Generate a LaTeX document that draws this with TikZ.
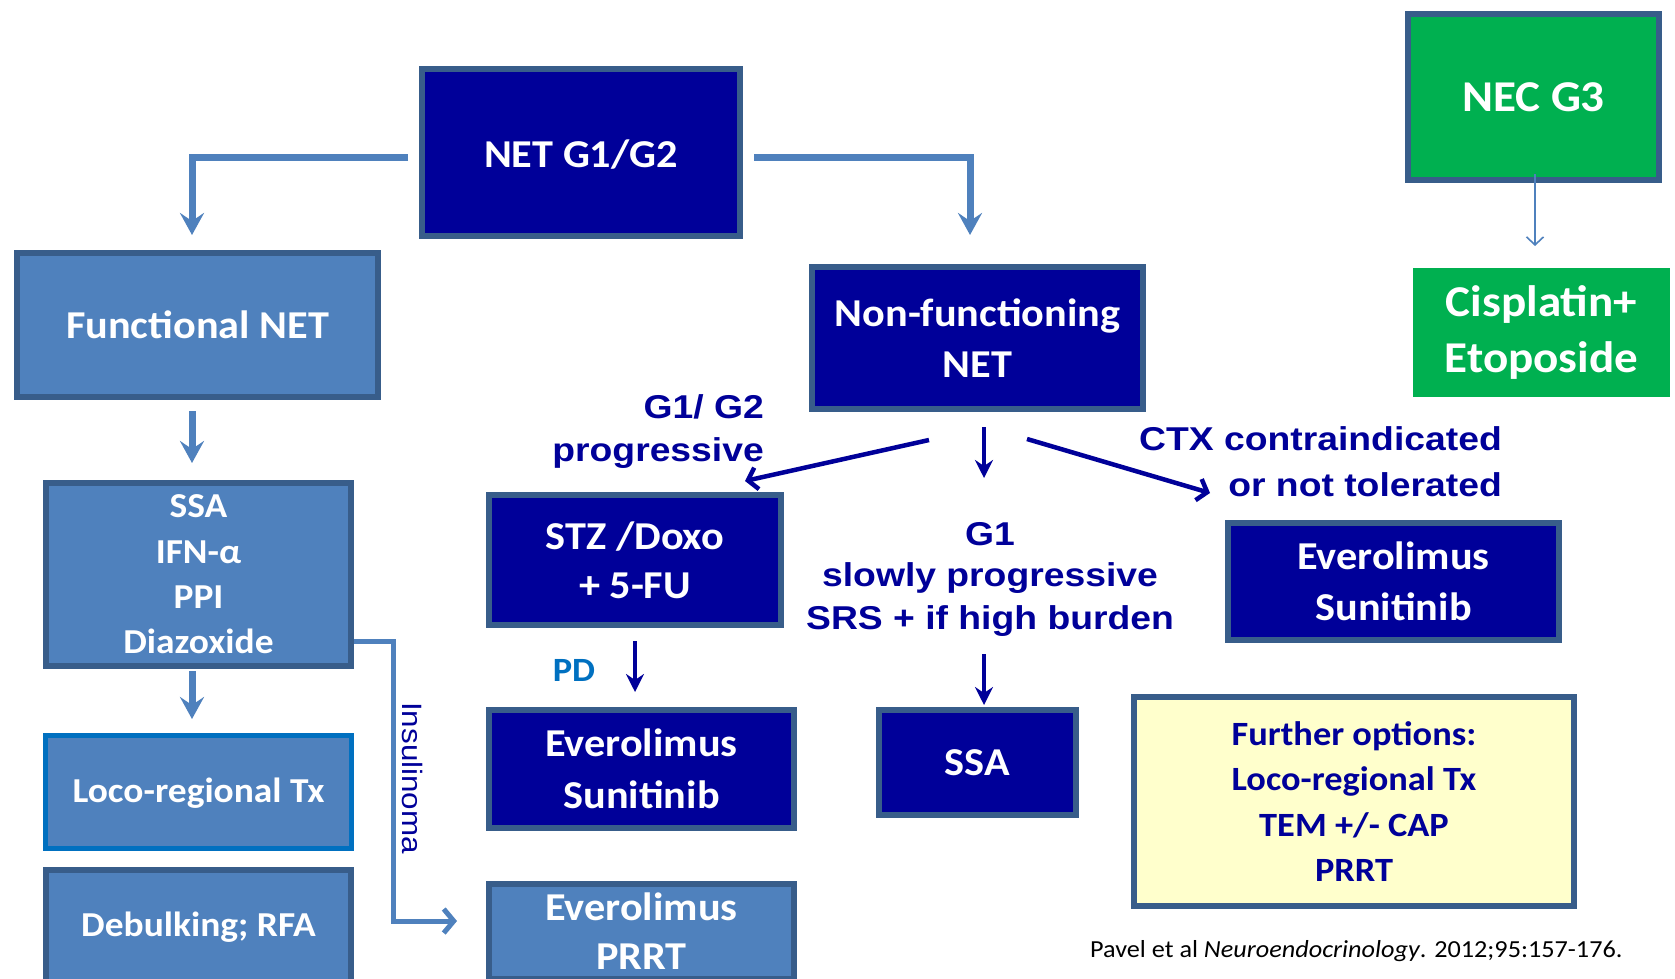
\documentclass[tikz,border=0pt]{standalone}
\usepackage{fontspec}
\setmainfont{Carlito}
\newfontfamily\calf[FakeStretch=1.07]{Carlito}
\newfontfamily\arif[FakeStretch=1.13]{Liberation Sans}
\newfontfamily\arins[FakeStretch=1.12]{Liberation Sans}
\usetikzlibrary{arrows.meta}
\definecolor{navyf}{HTML}{000099}
\definecolor{bordc}{HTML}{385D8A}
\definecolor{medf}{HTML}{4F81BD}
\definecolor{grn}{HTML}{00B050}
\definecolor{ylw}{HTML}{FFFFCC}
\definecolor{pdc}{HTML}{0070C0}
\definecolor{labc}{HTML}{000099}
\newcommand\bxf[2]{\calf\bfseries\fontsize{#1}{#2}\selectfont}
\newcommand\lbf[2]{\arif\bfseries\fontsize{#1}{#2}\selectfont}
\tikzset{
  bx/.style={rectangle, line width=6pt, draw=bordc, inner sep=0pt, text=white, align=center},
  navyb/.style={bx, fill=navyf},
  medb/.style={bx, fill=medf},
  lab/.style={inner sep=0pt, text=labc, font=\lbf{33}{40}},
  medarr/.style={draw=medf, line width=7pt, -{Stealth[length=22pt,width=24pt,inset=8pt]}},
  navyarr/.style={draw=navyf, line width=4.5pt, -{Stealth[length=18pt,width=18pt,inset=6pt]}},
  navybarb/.style={draw=navyf, line width=4.5pt, -{Straight Barb[length=9pt,width=22pt]}},
  thinarr/.style={draw=medf, line width=1.6pt, -{Straight Barb[length=8pt,width=17pt]}},
  insarr/.style={draw=medf, line width=5pt, -{Straight Barb[length=10pt,width=24pt]}}
}
\begin{document}
\begin{tikzpicture}[x=1pt,y=-1pt]
\clip (0,0) rectangle (1675,979);
\fill[white] (0,0) rectangle (1675,979);

% boxes
\node[navyb, minimum width=318, minimum height=167, font=\bxf{39.5}{50}, text height=31pt] (net) at (581,152.5) {NET G1/G2};
\node[medb, minimum width=361, minimum height=144, font=\bxf{39.5}{50}] (func) at (197.5,325) {Functional NET};
\node[bx, fill=grn, minimum width=251, minimum height=166, font=\bxf{44}{55}] (nec) at (1533.5,97) {NEC G3};
\node[bx, draw=none, fill=grn, minimum width=257, minimum height=129, font=\bxf{44}{56}] (cis) at (1541.5,332.5) {Cisplatin+\\Etoposide};
\node[navyb, minimum width=331, minimum height=142, font=\bxf{39.5}{51}] (nonf) at (977.5,338) {Non-functioning\\NET};
\node[navyb, minimum width=292, minimum height=130, font=\bxf{39.5}{49}] (stz) at (635,560) {STZ /Doxo\\+ 5-FU};
\node[navyb, minimum width=331, minimum height=117, font=\bxf{39.5}{51}] (evs1) at (1393.5,581.5) {Everolimus\\Sunitinib};
\node[medb, minimum width=305, minimum height=183, font=\bxf{35}{45.3}] (ssa1) at (198.5,574.5) {SSA\\IFN-α\\PPI\\Diazoxide};
\node[medb, draw=pdc, line width=5pt, minimum width=306, minimum height=113, font=\bxf{35}{45}, text height=27pt] (loco) at (198.5,792) {Loco-regional Tx};
\node[medb, minimum width=305, minimum height=114, font=\bxf{35}{45}] (debulk) at (198.5,927) {Debulking; RFA};
\node[navyb, minimum width=305, minimum height=118, font=\bxf{39.5}{52}] (evs2) at (641.5,769) {Everolimus\\Sunitinib};
\node[medb, minimum width=305, minimum height=95, font=\bxf{39.5}{49}] (evp) at (641.5,931.5) {Everolimus\\PRRT};
\node[navyb, minimum width=197, minimum height=105, font=\bxf{39.5}{50}] (ssa2) at (977.5,762.5) {SSA};
\node[bx, fill=ylw, text=labc, minimum width=440, minimum height=209, font=\bxf{34}{45.5}] (further) at (1354,801.5) {Further options:\\Loco-regional Tx\\TEM +/- CAP\\PRRT};

% labels
\node[lab, anchor=base east] (g12a) at (764,418) {G1/ G2};
\node[lab, anchor=base east] (g12b) at (764,461) {progressive};
\node[lab, anchor=base east] (ctxa) at (1502,450) {CTX contraindicated};
\node[lab, anchor=base east] (ctxb) at (1502,496) {or not tolerated};
\node[lab, anchor=base] (g1a) at (990,545) {G1};
\node[lab, anchor=base] (g1b) at (990,586) {slowly progressive};
\node[lab, anchor=base] (g1c) at (990,629) {SRS + if high burden};
\node[inner sep=0pt, text=pdc, font=\bxf{34}{40}] (pd) at (574,670) {PD};
\node[inner sep=0pt, text=labc, rotate=-90, font=\arins\fontsize{28}{32}\selectfont] (ins) at (413,778) {Insulinoma};
\node[inner sep=0pt, anchor=base west, text=black, font=\calf\fontsize{24.5}{30}\selectfont] (cite) at (1090,957) {Pavel et al \textit{Neuroendocrinology}. 2012;95:157-176.};

% connectors
\draw[medarr] ([shift={(-11pt,-5pt)}]net.west) -| ([shift={(-5.5pt,15pt)}]func.north);
\draw[medarr] ([shift={(11pt,-5pt)}]net.east) -| ([shift={(-7.5pt,29pt)}]nonf.north);
\draw[medarr] ([shift={(-5.5pt,-11pt)}]func.south) -- ([shift={(-6.5pt,17pt)}]ssa1.north);
\draw[medarr] ([shift={(-6.5pt,-2pt)}]ssa1.south) -- ([shift={(-6.5pt,14pt)}]loco.north);
\draw[insarr] ([yshift=-66.5pt]ssa1.east) -- ++(39,0) |- ([shift={(-29pt,10.5pt)}]evp.west);
\draw[thinarr] ([shift={(1.5pt,9pt)}]nec.south) -- ([shift={(-6.5pt,19pt)}]cis.north);

\coordinate (midtip) at (984,478);
\draw[navybarb] ([shift={(-48.5pt,-28pt)}]nonf.south) -- ([shift={(110pt,11pt)}]stz.north);
\draw[navyarr] ([shift={(6.5pt,-15pt)}]nonf.south) -- (midtip);
\draw[navybarb] ([shift={(49.5pt,-27pt)}]nonf.south) -- ([shift={(-183.5pt,27pt)}]evs1.north);
\draw[navyarr] ([yshift=-13pt]stz.south) -- ([shift={(-6.5pt,15pt)}]evs2.north);
\draw[navyarr] ([shift={(6.5pt,53pt)}]ssa2.north) -- ([shift={(6.5pt,2pt)}]ssa2.north);
\end{tikzpicture}
\end{document}
